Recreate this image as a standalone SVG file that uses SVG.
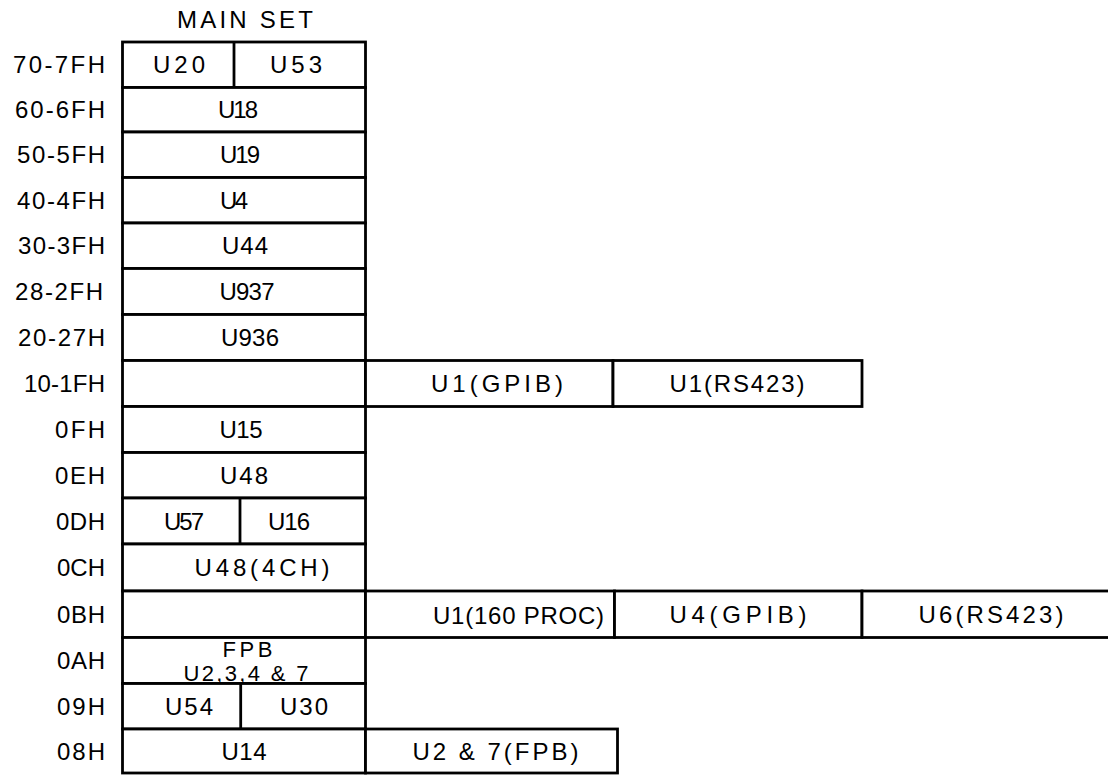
<svg xmlns="http://www.w3.org/2000/svg" width="1108" height="775" viewBox="0 0 1108 775">
<style>
  .box { fill: #ffffff; stroke: #000000; stroke-width: 2.8; }
  .div { stroke: #000000; stroke-width: 2.8; fill: none; }
  text { font-family: "Liberation Sans", Arial, sans-serif; font-size: 24px; fill: #000000; }
  .c { text-anchor: middle; }
  .lbl { text-anchor: end; }
  .tight { font-size: 22px; }
</style>
<rect x="0" y="0" width="1108" height="775" fill="#ffffff"/>

<g id="title">
  <text class="c" x="245" y="28" textLength="136">MAIN SET</text>
</g>

<g id="row-labels">
  <text class="lbl" x="105" y="73.2" textLength="92">70-7FH</text>
  <text class="lbl" x="105" y="118.2" textLength="90">60-6FH</text>
  <text class="lbl" x="105" y="163.2" textLength="88">50-5FH</text>
  <text class="lbl" x="105" y="208.7" textLength="88">40-4FH</text>
  <text class="lbl" x="105" y="254.2" textLength="87">30-3FH</text>
  <text class="lbl" x="103" y="300" textLength="88">28-2FH</text>
  <text class="lbl" x="105" y="346" textLength="87">20-27H</text>
  <text class="lbl" x="105" y="392" textLength="81">10-1FH</text>
  <text class="lbl" x="105" y="438" textLength="50">0FH</text>
  <text class="lbl" x="105" y="483.7" textLength="50">0EH</text>
  <text class="lbl" x="105" y="529.5" textLength="49">0DH</text>
  <text class="lbl" x="105" y="576" textLength="48">0CH</text>
  <text class="lbl" x="105" y="622.7" textLength="48">0BH</text>
  <text class="lbl" x="105" y="669.2" textLength="48">0AH</text>
  <text class="lbl" x="105" y="714.7" textLength="48">09H</text>
  <text class="lbl" x="105" y="759.5" textLength="48">08H</text>
</g>

<g id="row-70-7FH">
  <rect class="box" x="122.5" y="42" width="243" height="45.5"/>
  <line class="div" x1="234" y1="42" x2="234" y2="87.5"/>
  <text class="c" x="179" y="73.2" textLength="52">U20</text>
  <text class="c" x="296" y="73.2" textLength="52">U53</text>
</g>
<g id="row-60-6FH">
  <rect class="box" x="122.5" y="87.5" width="243" height="44.5"/>
  <text class="c" x="238" y="118.2" textLength="40">U18</text>
</g>
<g id="row-50-5FH">
  <rect class="box" x="122.5" y="132" width="243" height="45.5"/>
  <text class="c" x="240" y="163.2" textLength="40">U19</text>
</g>
<g id="row-40-4FH">
  <rect class="box" x="122.5" y="177.5" width="243" height="45.5"/>
  <text class="c" x="234" y="208.7" textLength="28">U4</text>
</g>
<g id="row-30-3FH">
  <rect class="box" x="122.5" y="223" width="243" height="45.5"/>
  <text class="c" x="245" y="254.2" textLength="46">U44</text>
</g>
<g id="row-28-2FH">
  <rect class="box" x="122.5" y="268.5" width="243" height="46"/>
  <text class="c" x="247" y="300" textLength="55">U937</text>
</g>
<g id="row-20-27H">
  <rect class="box" x="122.5" y="314.5" width="243" height="46"/>
  <text class="c" x="250" y="346" textLength="58">U936</text>
</g>
<g id="row-10-1FH">
  <rect class="box" x="122.5" y="360.5" width="243" height="46"/>
  <rect class="box" x="365.5" y="360.5" width="247.5" height="46"/>
  <rect class="box" x="613" y="360.5" width="249" height="46"/>
  <text class="c" x="497" y="392" textLength="132">U1(GPIB)</text>
  <text class="c" x="737" y="392" textLength="135">U1(RS423)</text>
</g>
<g id="row-0FH">
  <rect class="box" x="122.5" y="406.5" width="243" height="46"/>
  <text class="c" x="241" y="438" textLength="43">U15</text>
</g>
<g id="row-0EH">
  <rect class="box" x="122.5" y="452.5" width="243" height="45.5"/>
  <text class="c" x="244" y="483.7" textLength="48">U48</text>
</g>
<g id="row-0DH">
  <rect class="box" x="122.5" y="498" width="243" height="46"/>
  <line class="div" x1="240" y1="498" x2="240" y2="544"/>
  <text class="c" x="184" y="529.5" textLength="40">U57</text>
  <text class="c" x="289" y="529.5" textLength="42">U16</text>
</g>
<g id="row-0CH">
  <rect class="box" x="122.5" y="544" width="243" height="47"/>
  <text class="c" x="262" y="576" textLength="135">U48(4CH)</text>
</g>
<g id="row-0BH">
  <rect class="box" x="122.5" y="591" width="243" height="46.5"/>
  <rect class="box" x="365.5" y="591" width="249" height="46.5"/>
  <rect class="box" x="614.5" y="591" width="247.5" height="46.5"/>
  <rect class="box" x="862" y="591" width="252" height="46.5"/>
  <text class="c" x="518.5" y="623.5" textLength="171">U1(160 PROC)</text>
  <text class="c" x="738" y="622.7" textLength="137">U4(GPIB)</text>
  <text class="c" x="991" y="622.7" textLength="145">U6(RS423)</text>
</g>
<g id="row-0AH">
  <rect class="box" x="122.5" y="637.5" width="243" height="46"/>
  <text class="c tight" x="247.5" y="657" textLength="50">FPB</text>
  <text class="c tight" x="246" y="681" textLength="125">U2,3,4 &amp; 7</text>
</g>
<g id="row-09H">
  <rect class="box" x="122.5" y="683.5" width="243" height="45.5"/>
  <line class="div" x1="240.7" y1="683.5" x2="240.7" y2="729"/>
  <text class="c" x="189" y="714.7" textLength="48">U54</text>
  <text class="c" x="304" y="714.7" textLength="48">U30</text>
</g>
<g id="row-08H">
  <rect class="box" x="122.5" y="729" width="243" height="44"/>
  <rect class="box" x="365.5" y="729" width="252" height="44"/>
  <text class="c" x="244" y="759.5" textLength="45">U14</text>
  <text class="c" x="495.5" y="759.5" textLength="166">U2 &amp; 7(FPB)</text>
</g>

<g id="connectors"></g>
</svg>
